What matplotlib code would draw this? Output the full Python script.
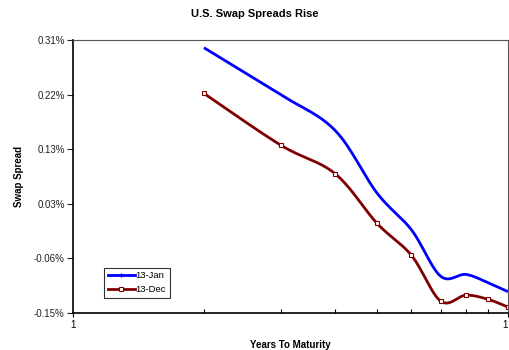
import numpy as np
import matplotlib
matplotlib.use("Agg")
import matplotlib.pyplot as plt
from matplotlib.ticker import FixedLocator, FuncFormatter

plt.rcParams['font.family'] = ['Liberation Sans', 'DejaVu Sans']

years = [2, 3, 4, 5, 6, 7, 8, 9, 10]
jan13 = [0.297, 0.218, 0.158, 0.052, -0.010, -0.088, -0.085, -0.099, -0.114]
dec13 = [0.220, 0.133, 0.085, 0.001, -0.053, -0.130, -0.120, -0.127, -0.140]
series_names = ["13-Jan", "13-Dec"]
title = "U.S. Swap Spreads Rise"
xlabel = "Years To Maturity"
ylabel = "Swap Spread"


def smooth(xs, ys, n=30):
    # Excel-like smoothing: cubic Bezier segments, Catmull-Rom control points, in log-x space
    u = np.log10(np.asarray(xs, float))
    y = np.asarray(ys, float)
    pu = np.concatenate([[u[0]], u, [u[-1]]])
    py = np.concatenate([[y[0]], y, [y[-1]]])
    out_u, out_y = [], []
    t = np.linspace(0, 1, n)
    for i in range(len(u) - 1):
        p0 = np.array([u[i], y[i]])
        p3 = np.array([u[i + 1], y[i + 1]])
        p1 = p0 + (np.array([pu[i + 2], py[i + 2]]) - np.array([pu[i], py[i]])) / 6
        p2 = p3 - (np.array([pu[i + 3], py[i + 3]]) - np.array([pu[i + 1], py[i + 1]])) / 6
        b = ((1 - t) ** 3)[:, None] * p0 + (3 * (1 - t) ** 2 * t)[:, None] * p1 \
            + (3 * (1 - t) * t ** 2)[:, None] * p2 + (t ** 3)[:, None] * p3
        out_u.extend(b[:, 0]); out_y.extend(b[:, 1])
    return 10 ** np.array(out_u), np.array(out_y)


fig = plt.figure(figsize=(5.09, 3.5), dpi=100)
ax = fig.add_axes([73 / 509, 37 / 350, 435 / 509, 273 / 350])

blue = '#0000FF'
red = '#800000'

sx, sy = smooth(years, jan13)
ax.plot(sx, sy, color=blue, lw=2.0, solid_capstyle='butt')
sx, sy = smooth(years, dec13)
ax.plot(sx, sy, color=red, lw=2.0)
ax.plot(years, dec13, ls='none', marker='s', ms=3, mfc='white', mec=red, mew=0.8)

# legend proxies
ax.plot([], [], color=blue, lw=2.0, marker='|', ms=3, mew=1, label=series_names[0])
ax.plot([], [], color=red, lw=2.0, marker='s', ms=3, mfc='white', mec=red, mew=0.8,
        label=series_names[1])

ax.set_xscale('log')
ax.set_xlim(1, 10)
ax.set_ylim(-0.15, 0.31)

yt = np.linspace(-0.15, 0.31, 6)
ax.yaxis.set_major_locator(FixedLocator(yt))
ax.yaxis.set_major_formatter(FuncFormatter(lambda v, p: f"{v:.2f}%"))
ax.xaxis.set_major_locator(FixedLocator([1, 10]))
ax.xaxis.set_major_formatter(FuncFormatter(lambda v, p: "1"))
ax.xaxis.set_minor_locator(FixedLocator([2, 3, 4, 5, 6, 7, 8, 9]))
ax.xaxis.set_minor_formatter(FuncFormatter(lambda v, p: ""))

ax.tick_params(axis='y', direction='out', length=4, width=0.8, labelsize=7, pad=2, colors='#222222')
ax.tick_params(axis='x', which='major', direction='out', length=3, width=0.8, labelsize=7, pad=2)
ax.tick_params(axis='x', which='minor', direction='in', length=3, width=0.8)

for s in ax.spines.values():
    s.set_linewidth(0.8)
ax.spines['top'].set_color('#555555')
ax.spines['right'].set_color('#555555')
ax.spines['left'].set_color('black')
ax.spines['bottom'].set_color('black')
ax.spines['bottom'].set_linewidth(1.2)
ax.spines['left'].set_linewidth(1.2)

ax.set_xlabel(xlabel, fontsize=7, fontweight='bold', labelpad=7)
ax.set_ylabel(ylabel, fontsize=7, fontweight='bold', labelpad=7)
fig.text(0.5, 1 - 14 / 350, title, ha='center', va='center', fontsize=8, fontweight='bold')

fig.canvas.draw()
xlabels = ax.get_xticklabels()
xlabels[-1].set_horizontalalignment('right')

leg = ax.legend(loc='lower left', bbox_to_anchor=(0.072, 0.055), fontsize=6.8, frameon=True,
                fancybox=False, edgecolor='black', handlelength=2.8, handletextpad=0.1,
                borderpad=0.4, labelspacing=0.5, borderaxespad=0)
leg.get_frame().set_linewidth(0.8)

fig.savefig('out.png', dpi=100)
